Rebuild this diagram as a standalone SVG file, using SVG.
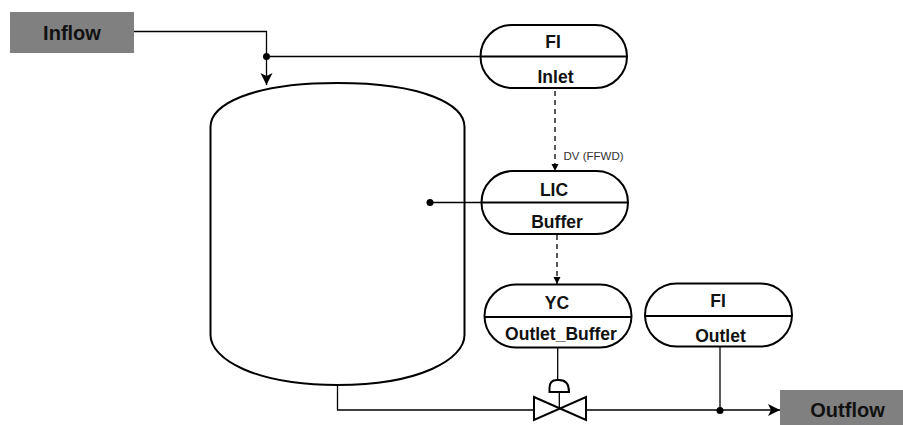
<svg xmlns="http://www.w3.org/2000/svg" width="903" height="425" viewBox="0 0 903 425">
<style>
text{font-family:"Liberation Sans",Arial,sans-serif;font-weight:bold;font-size:17.5px;fill:#111;text-anchor:middle}
.big{font-size:20px}
.small{font-size:11.5px;font-weight:normal;fill:#333;text-anchor:start}
.ln{fill:none;stroke:#000;stroke-width:1.3}
.dash{stroke-dasharray:5 4}
.sh{fill:#fff;stroke:#000;stroke-width:2}
.term{fill:#808080}
</style>
<defs>
<marker id="a" markerUnits="userSpaceOnUse" markerWidth="14" markerHeight="14" refX="12" refY="6" orient="auto"><path d="M0 0L12 6L0 12L3 6Z" fill="#000"/></marker>
<marker id="b" markerUnits="userSpaceOnUse" markerWidth="8" markerHeight="8" refX="7" refY="3.5" orient="auto"><path d="M0 0L7 3.5L0 7Z" fill="#000"/></marker>
</defs>
<g id="vessel"><path class="sh" d="M210.500 127C210.500 105 250 83 337.500 83S464.500 105 464.500 127V335C464.500 359 420 385 337.500 385S210.500 359 210.500 335Z"/></g>
<g id="connectors">
<path class="ln" d="M134 31.500H266.500V85" marker-end="url(#a)"/>
<path class="ln" d="M266.500 56.500H481"/>
<path class="ln dash" d="M555 91V171" marker-end="url(#b)"/>
<path class="ln dash" d="M557 235V284" marker-end="url(#b)"/>
<path class="ln" d="M430 202.500H481"/>
<path class="ln" d="M557.700 348V380M559.300 392V408"/>
<path class="ln" d="M720 347V410"/>
<path class="ln" d="M337.500 385V410H534M586 410H780" marker-end="url(#a)"/>
<circle cx="266.500" cy="56.500" r="3.500"/>
<circle cx="430" cy="202.500" r="3.500"/>
<circle cx="720" cy="410.500" r="3.500"/>
</g>
<g id="inflow"><rect class="term" x="10" y="12" width="124" height="41"/><text class="big" x="72" y="40">Inflow</text></g>
<g id="outflow"><rect class="term" x="780" y="390" width="123" height="35"/><text class="big" x="847.500" y="417">Outflow</text></g>
<g id="fi-inlet"><rect class="sh" x="480.500" y="25" width="146.500" height="63" rx="31.500"/><path class="sh" d="M480.500 56.500H627"/><text x="553" y="48">FI</text><text x="555.500" y="83">Inlet</text></g>
<g id="lic-buffer"><rect class="sh" x="481.500" y="171" width="146.500" height="63" rx="31.500"/><path class="sh" d="M481.500 202.500H628"/><text x="554" y="196">LIC</text><text x="557" y="228">Buffer</text></g>
<g id="yc-outlet"><rect class="sh" x="484.500" y="284.500" width="147" height="63" rx="31.500"/><path class="sh" d="M484.500 317H631.500"/><text x="557" y="309">YC</text><text x="561" y="340">Outlet_Buffer</text></g>
<g id="fi-outlet"><rect class="sh" x="645" y="283.500" width="147" height="63" rx="31.500"/><path class="sh" d="M645 316H792"/><text x="718" y="307">FI</text><text x="720.500" y="342">Outlet</text></g>
<g id="valve"><path class="sh" d="M534 397L586 420V397L534 420Z"/><path class="sh" d="M549.500 392V388Q549.500 380 557 380H559Q569 380 569 392Z"/></g>
<text class="small" x="563.500" y="160">DV (FFWD)</text>
</svg>
